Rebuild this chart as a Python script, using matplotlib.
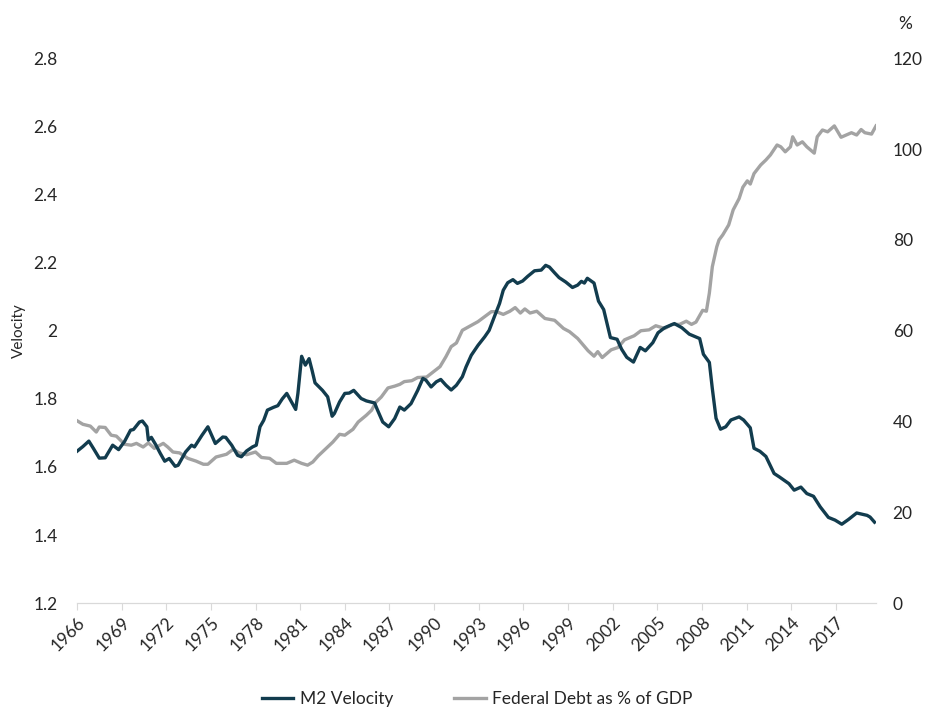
import matplotlib
matplotlib.use("Agg")
import matplotlib.pyplot as plt
from matplotlib.ticker import FuncFormatter

plt.rcParams['font.family'] = ['Lato', 'DejaVu Sans']

# M2 velocity (decimal year, value)
vel_t = [1966.0, 1966.4, 1966.8, 1967.1, 1967.5, 1967.9, 1968.4, 1968.8, 1969.2, 1969.6,
         1969.8, 1970.2, 1970.4, 1970.7, 1970.8, 1971.0, 1971.3, 1971.6, 1971.9, 1972.2,
         1972.6, 1972.8, 1973.3, 1973.7, 1973.9, 1974.4, 1974.8, 1975.3, 1975.8, 1976.0,
         1976.4, 1976.8, 1977.05, 1977.4, 1977.8, 1978.05, 1978.3, 1978.55, 1978.8, 1979.2,
         1979.5, 1979.8, 1980.1, 1980.7, 1980.85, 1981.1, 1981.35, 1981.6, 1981.8, 1982.0,
         1982.5, 1982.85, 1983.15, 1983.3, 1983.65, 1984.0, 1984.3, 1984.6, 1985.1, 1985.45,
         1986.0, 1986.2, 1986.55, 1986.95, 1987.35, 1987.7, 1988.0, 1988.45, 1988.9, 1989.25,
         1989.45, 1989.8, 1990.15, 1990.45, 1990.8, 1991.15, 1991.5, 1991.9, 1992.15, 1992.5,
         1992.95, 1993.4, 1993.7, 1994.05, 1994.4, 1994.65, 1994.95, 1995.3, 1995.6, 1995.95,
         1996.3, 1996.75, 1997.2, 1997.5, 1997.75, 1998.1, 1998.4, 1998.85, 1999.3, 1999.65,
         1999.9, 2000.1, 2000.3, 2000.75, 2001.05, 2001.4, 2001.85, 2002.3, 2002.6, 2002.95,
         2003.4, 2003.85, 2004.2, 2004.7, 2005.05, 2005.5, 2006.15, 2006.65, 2007.15, 2007.85,
         2008.1, 2008.5, 2008.7, 2008.95, 2009.25, 2009.6, 2009.95, 2010.5, 2010.8, 2011.25,
         2011.5, 2011.9, 2012.3, 2012.85, 2013.2, 2013.85, 2014.2, 2014.65, 2015.05, 2015.5,
         2015.95, 2016.5, 2016.95, 2017.4, 2017.85, 2018.4, 2019.1, 2019.3, 2019.6]
vel_v = [1.646, 1.66, 1.676, 1.655, 1.626, 1.627, 1.664, 1.651, 1.675, 1.708,
         1.71, 1.732, 1.735, 1.718, 1.679, 1.687, 1.665, 1.64, 1.617, 1.625,
         1.602, 1.605, 1.644, 1.664, 1.659, 1.693, 1.718, 1.669, 1.688, 1.687,
         1.664, 1.634, 1.63, 1.647, 1.659, 1.664, 1.718, 1.737, 1.767, 1.775,
         1.78, 1.80, 1.816, 1.769, 1.816, 1.925, 1.899, 1.918, 1.884, 1.847,
         1.825, 1.806, 1.749, 1.757, 1.791, 1.816, 1.817, 1.825, 1.801, 1.794,
         1.788, 1.767, 1.732, 1.718, 1.742, 1.776, 1.767, 1.786, 1.825, 1.86,
         1.855, 1.835, 1.85, 1.857, 1.84, 1.826, 1.84, 1.865, 1.894, 1.928,
         1.957, 1.982, 2.001, 2.041, 2.08, 2.119, 2.141, 2.15, 2.139, 2.146,
         2.16, 2.176, 2.178, 2.192, 2.187, 2.17, 2.156, 2.143, 2.127, 2.134,
         2.145, 2.14, 2.154, 2.14, 2.087, 2.062, 1.98, 1.975, 1.946, 1.922,
         1.908, 1.951, 1.941, 1.965, 1.994, 2.009, 2.021, 2.009, 1.99, 1.977,
         1.931, 1.907, 1.83, 1.743, 1.711, 1.718, 1.738, 1.747, 1.738, 1.715,
         1.655, 1.646, 1.631, 1.581, 1.571, 1.551, 1.532, 1.541, 1.522, 1.514,
         1.483, 1.452, 1.444, 1.432, 1.446, 1.465, 1.458, 1.453, 1.438]

# Federal debt as % of GDP
debt_t = [1966.0, 1966.4, 1966.9, 1967.3, 1967.5, 1967.9, 1968.3, 1968.65, 1969.2, 1969.65,
          1970.0, 1970.45, 1970.8, 1971.2, 1971.8, 1972.1, 1972.45, 1972.9, 1973.45, 1974.0,
          1974.5, 1974.8, 1975.35, 1976.05, 1976.5, 1976.9, 1977.4, 1978.0, 1978.4, 1978.95,
          1979.4, 1980.1, 1980.6, 1981.1, 1981.5, 1981.85, 1982.2, 1982.75, 1983.2, 1983.65,
          1984.0, 1984.55, 1984.9, 1985.45, 1985.8, 1986.1, 1986.45, 1986.9, 1987.35, 1987.7,
          1988.0, 1988.5, 1988.9, 1989.5, 1990.05, 1990.4, 1990.8, 1991.15, 1991.5, 1991.9,
          1992.4, 1992.95, 1993.4, 1993.85, 1994.2, 1994.65, 1995.1, 1995.45, 1995.8, 1996.1,
          1996.45, 1996.9, 1997.45, 1998.1, 1998.7, 1999.1, 1999.65, 2000.35, 2000.75, 2001.0,
          2001.3, 2001.9, 2002.35, 2002.8, 2003.45, 2003.9, 2004.45, 2004.9, 2005.5, 2006.0,
          2006.5, 2006.95, 2007.3, 2007.6, 2008.05, 2008.3, 2008.5, 2008.7, 2009.0, 2009.15,
          2009.4, 2009.8, 2010.1, 2010.5, 2010.75, 2011.05, 2011.25, 2011.5, 2011.95, 2012.3,
          2012.6, 2013.05, 2013.3, 2013.6, 2013.95, 2014.1, 2014.4, 2014.75, 2015.05, 2015.55,
          2015.75, 2016.1, 2016.45, 2016.9, 2017.35, 2017.7, 2018.05, 2018.4, 2018.7, 2018.95,
          2019.4, 2019.7]
debt_v = [40.2, 39.4, 39.0, 37.7, 38.8, 38.7, 37.0, 36.8, 35.0, 34.8,
          35.2, 34.4, 35.3, 34.1, 35.2, 34.4, 33.3, 33.1, 31.9, 31.3,
          30.6, 30.6, 32.2, 32.8, 33.9, 33.1, 32.7, 33.3, 32.1, 31.9,
          30.8, 30.8, 31.5, 30.8, 30.4, 31.1, 32.4, 34.1, 35.5, 37.2,
          37.0, 38.3, 39.9, 41.4, 42.5, 44.3, 45.4, 47.4, 47.8, 48.2,
          48.8, 49.0, 49.7, 49.8, 51.2, 52.1, 54.3, 56.5, 57.3, 60.1,
          61.0, 62.0, 63.1, 64.2, 64.2, 63.6, 64.3, 65.1, 63.9, 64.8,
          63.9, 64.3, 62.7, 62.3, 60.5, 59.8, 58.3, 55.6, 54.4, 55.4,
          54.1, 55.8, 56.3, 58.0, 58.9, 60.0, 60.2, 61.1, 60.5, 61.4,
          61.4, 62.1, 61.4, 61.9, 64.5, 64.3, 68.3, 74.1, 78.5, 80.0,
          81.1, 83.3, 86.6, 89.1, 91.6, 93.0, 92.3, 94.6, 96.5, 97.6,
          98.7, 100.9, 100.5, 99.4, 100.5, 102.7, 100.9, 101.6, 100.5, 99.1,
          102.7, 104.2, 103.8, 105.1, 102.6, 103.1, 103.6, 103.1, 104.3, 103.6,
          103.3, 105.1]

year_ticks = list(range(1966, 2018, 3))
text_col = "#262626"

fig = plt.figure(figsize=(9.27, 7.19), dpi=100)
ax = fig.add_axes([0.083, 0.161, 0.862, 0.758])
ax2 = ax.twinx()

ax.plot(vel_t, vel_v, color="#123c4e", lw=2.4, label="M2 Velocity", zorder=3)
ax2.plot(debt_t, debt_v, color="#a3a3a3", lw=2.4, label="Federal Debt as % of GDP")
ax.set_zorder(ax2.get_zorder() + 1)
ax.patch.set_visible(False)

ax.set_xlim(1966, 2019.7)
ax.set_ylim(1.2, 2.8)
ax2.set_ylim(0, 120)
ax.set_yticks([1.2, 1.4, 1.6, 1.8, 2.0, 2.2, 2.4, 2.6, 2.8])
ax2.set_yticks(range(0, 121, 20))
ax.yaxis.set_major_formatter(FuncFormatter(lambda v, p: f"{v:g}"))

ax.set_xticks(year_ticks)
ax.set_xticklabels([str(y) for y in year_ticks], rotation=45, ha="right",
                   rotation_mode="anchor")

for a in (ax, ax2):
    for s in ("top", "left", "right"):
        a.spines[s].set_visible(False)
    a.spines["bottom"].set_color("#d9d9d9")
    a.tick_params(axis="y", length=0, labelsize=12.5, labelcolor=text_col)
ax.tick_params(axis="y", pad=14)
ax2.tick_params(axis="y", pad=12)
ax.tick_params(axis="x", length=5, color="#d9d9d9", labelsize=12.5,
               labelcolor=text_col, pad=3)

ax.set_ylabel("Velocity", fontsize=11, color=text_col)
ax.yaxis.set_label_coords(-0.064, 0.5)
fig.text(0.976, 0.978, "%", fontsize=12.5, color=text_col, ha="center", va="top")

h1, l1 = ax.get_legend_handles_labels()
h2, l2 = ax2.get_legend_handles_labels()
fig.legend(h1 + h2, l1 + l2, loc="lower center", bbox_to_anchor=(0.515, -0.005),
           ncol=2, frameon=False, fontsize=12.5, handlelength=1.8,
           handletextpad=0.4, columnspacing=3.5, labelcolor=text_col)

fig.savefig("out.png", dpi=100)
